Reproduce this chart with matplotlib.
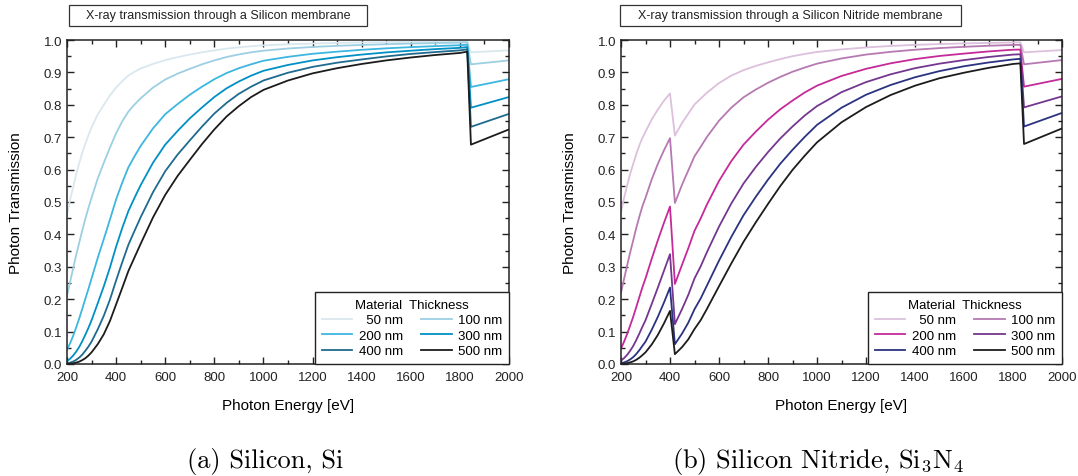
import matplotlib
matplotlib.use("Agg")
from matplotlib import pyplot as plt
from matplotlib.patches import Rectangle
from matplotlib.ticker import MultipleLocator

plt.rcParams["font.family"] = ["Liberation Sans", "DejaVu Sans"]

# Membrane thicknesses shown in both panels (legend labels).
THICKNESS_LABELS = ["50 nm", "100 nm", "200 nm", "300 nm", "400 nm", "500 nm"]

# ---------------------------------------------------------------------------
# Silicon (Si) transmission
# ---------------------------------------------------------------------------
energy_si = [200, 212, 225, 237, 250, 262, 275, 287, 300, 325, 350, 375, 400,
             425, 450, 475, 500, 550, 600, 650, 700, 750, 800, 850, 900, 950,
             1000, 1100, 1200, 1300, 1400, 1500, 1600, 1700, 1800, 1830, 1845, 2000]

si_50nm = [0.458, 0.505, 0.545, 0.585, 0.620, 0.652, 0.680, 0.706, 0.730, 0.770,
           0.800, 0.829, 0.853, 0.873, 0.890, 0.902, 0.912, 0.926, 0.938, 0.947,
           0.955, 0.962, 0.968, 0.9734, 0.9775, 0.9808, 0.9835, 0.9868, 0.989,
           0.991, 0.9923, 0.9935, 0.9945, 0.9953, 0.9959, 0.9963, 0.962, 0.968]
si_100nm = [0.210, 0.251, 0.295, 0.335, 0.375, 0.412, 0.449, 0.481, 0.513, 0.572,
            0.621, 0.668, 0.712, 0.749, 0.779, 0.801, 0.820, 0.853, 0.878, 0.896,
            0.911, 0.925, 0.937, 0.9475, 0.9555, 0.962, 0.967, 0.9737, 0.9785,
            0.982, 0.9847, 0.987, 0.989, 0.9906, 0.9919, 0.9927, 0.925, 0.937]
si_200nm = [0.044, 0.0629, 0.087, 0.112, 0.141, 0.170, 0.202, 0.231, 0.264, 0.327,
            0.386, 0.446, 0.508, 0.560, 0.607, 0.641, 0.673, 0.727, 0.771, 0.802,
            0.831, 0.856, 0.879, 0.898, 0.913, 0.925, 0.936, 0.948, 0.9574,
            0.964, 0.9697, 0.9743, 0.978, 0.9812, 0.9838, 0.9854, 0.855, 0.879]
si_300nm = [0.0092, 0.0158, 0.026, 0.0377, 0.053, 0.070, 0.091, 0.111, 0.135, 0.187,
            0.240, 0.298, 0.362, 0.420, 0.472, 0.513, 0.552, 0.621, 0.677, 0.719,
            0.758, 0.792, 0.824, 0.851, 0.872, 0.890, 0.905, 0.923, 0.937, 0.947,
            0.955, 0.9617, 0.967, 0.9719, 0.9758, 0.978, 0.791, 0.824]
si_400nm = [0.0019, 0.0040, 0.0076, 0.0126, 0.020, 0.0288, 0.041, 0.0535, 0.069,
            0.1067, 0.149, 0.199, 0.258, 0.314, 0.368, 0.411, 0.453, 0.530, 0.595,
            0.646, 0.690, 0.733, 0.773, 0.806, 0.834, 0.856, 0.875, 0.899, 0.917,
            0.930, 0.940, 0.9493, 0.957, 0.9628, 0.968, 0.971, 0.732, 0.772]
si_500nm = [0.0004, 0.0010, 0.0023, 0.0042, 0.0074, 0.0119, 0.018, 0.0257, 0.036,
            0.061, 0.092, 0.133, 0.184, 0.235, 0.287, 0.329, 0.371, 0.452, 0.522,
            0.580, 0.630, 0.679, 0.724, 0.764, 0.796, 0.824, 0.846, 0.875, 0.897,
            0.913, 0.926, 0.937, 0.946, 0.9537, 0.960, 0.964, 0.677, 0.724]

# ---------------------------------------------------------------------------
# Silicon nitride (Si3N4) transmission
# ---------------------------------------------------------------------------
energy_sin = [200, 212, 225, 237, 250, 262, 275, 287, 300, 325, 350, 375, 400, 420,
              450, 475, 500, 525, 550, 600, 650, 700, 750, 800, 850, 900, 950, 1000,
              1100, 1200, 1300, 1400, 1500, 1600, 1700, 1800, 1830, 1845, 2000]

sin_50nm = [0.469, 0.511, 0.551, 0.586, 0.618, 0.647, 0.675, 0.697, 0.717, 0.754,
            0.785, 0.812, 0.835, 0.705, 0.745, 0.773, 0.801, 0.819, 0.837, 0.867,
            0.890, 0.907, 0.920, 0.931, 0.941, 0.950, 0.957, 0.963, 0.971, 0.977,
            0.9815, 0.985, 0.9874, 0.9895, 0.991, 0.9923, 0.9926, 0.962, 0.969]
sin_100nm = [0.220, 0.261, 0.304, 0.343, 0.382, 0.419, 0.455, 0.486, 0.513, 0.569,
             0.617, 0.659, 0.697, 0.497, 0.555, 0.598, 0.641, 0.670, 0.700, 0.751,
             0.791, 0.823, 0.847, 0.868, 0.886, 0.902, 0.915, 0.927, 0.943, 0.955,
             0.9634, 0.970, 0.975, 0.979, 0.9822, 0.9847, 0.985, 0.925, 0.938]
sin_200nm = [0.048, 0.068, 0.0925, 0.118, 0.146, 0.175, 0.207, 0.236, 0.264, 0.324,
             0.381, 0.435, 0.486, 0.247, 0.308, 0.358, 0.411, 0.449, 0.491, 0.565,
             0.626, 0.677, 0.717, 0.754, 0.786, 0.813, 0.838, 0.859, 0.889, 0.911,
             0.928, 0.941, 0.9507, 0.958, 0.9647, 0.970, 0.9705, 0.856, 0.880]
sin_300nm = [0.0106, 0.0177, 0.0281, 0.0404, 0.0559, 0.0733, 0.0942, 0.1144, 0.135,
             0.1845, 0.235, 0.287, 0.339, 0.123, 0.171, 0.214, 0.264, 0.301, 0.344,
             0.424, 0.495, 0.557, 0.608, 0.654, 0.696, 0.733, 0.767, 0.796, 0.839,
             0.870, 0.894, 0.913, 0.927, 0.938, 0.9475, 0.955, 0.956, 0.792, 0.826]
sin_400nm = [0.0023, 0.0046, 0.0086, 0.0139, 0.0214, 0.0307, 0.0428, 0.0556, 0.069,
             0.105, 0.145, 0.189, 0.236, 0.061, 0.095, 0.128, 0.169, 0.202, 0.241,
             0.319, 0.392, 0.459, 0.516, 0.569, 0.618, 0.661, 0.701, 0.738, 0.791,
             0.831, 0.861, 0.885, 0.904, 0.919, 0.9306, 0.940, 0.942, 0.733, 0.775]
sin_500nm = [0.0005, 0.0012, 0.0026, 0.0048, 0.0082, 0.0128, 0.0195, 0.0270, 0.036,
             0.0598, 0.0893, 0.1247, 0.164, 0.0303, 0.0528, 0.0765, 0.108, 0.135,
             0.169, 0.240, 0.310, 0.377, 0.437, 0.494, 0.549, 0.599, 0.643, 0.684,
             0.746, 0.793, 0.830, 0.859, 0.882, 0.899, 0.914, 0.926, 0.928, 0.679,
             0.727]

si_curves = [si_50nm, si_100nm, si_200nm, si_300nm, si_400nm, si_500nm]
sin_curves = [sin_50nm, sin_100nm, sin_200nm, sin_300nm, sin_400nm, sin_500nm]

SI_COLORS = ["#d9e8ef", "#9dcfe3", "#3db6e0", "#0090c6", "#1f6a8e", "#1c1c1c"]
SIN_COLORS = ["#dcc0dc", "#b679b2", "#c42a98", "#74378f", "#2b3381", "#1c1c1c"]

FIG_W, FIG_H = 1078, 477


def fig_box(px_left, px_top, px_right, px_bottom):
    """Convert a pixel box (top-left origin) into figure fractions."""
    return (px_left / FIG_W, 1 - px_bottom / FIG_H,
            (px_right - px_left) / FIG_W, (px_bottom - px_top) / FIG_H)


def draw_panel(fig, ax_px, energy, curves, colors, title, title_px, caption, caption_x):
    ax = fig.add_axes(fig_box(*ax_px))
    lines = []
    for values, color, label in zip(curves, colors, THICKNESS_LABELS):
        (line,) = ax.plot(energy, values, color=color, lw=1.3, label=label)
        lines.append(line)

    ax.set_xlim(200, 2000)
    ax.set_ylim(0, 1)
    ax.xaxis.set_major_locator(MultipleLocator(200))
    ax.xaxis.set_minor_locator(MultipleLocator(100))
    ax.yaxis.set_major_locator(MultipleLocator(0.1))
    ax.yaxis.set_minor_locator(MultipleLocator(0.05))
    ax.yaxis.set_major_formatter("{x:.1f}")
    ax.tick_params(which="both", direction="in", top=True, right=True,
                   width=1, labelsize=9.5, colors="#222222")
    ax.tick_params(which="major", length=5)
    ax.tick_params(which="minor", length=3)
    ax.tick_params(axis="x", pad=5)
    for spine in ax.spines.values():
        spine.set_linewidth(1.1)
        spine.set_color("#222222")

    ax.set_xlabel("Photon Energy [eV]", fontsize=11)
    ax.set_ylabel("Photon Transmission", fontsize=11)
    ax.xaxis.set_label_coords(0.5, -0.105)
    ax.yaxis.set_label_coords(-0.1, 0.5)

    # Legend: rows of (50,100), (200,300), (400,500) with right-aligned labels
    order = [0, 2, 4, 1, 3, 5]
    labels = ["  50 nm", "200 nm", "400 nm", "100 nm", "300 nm", "500 nm"]
    leg = ax.legend([lines[i] for i in order], labels, ncol=2,
                    title="Material  Thickness", title_fontsize=9.5, fontsize=9.5,
                    loc="lower right", borderaxespad=0, fancybox=False,
                    framealpha=1, edgecolor="#222222", handlelength=2.3,
                    handletextpad=0.5, columnspacing=1.4, labelspacing=0.25,
                    borderpad=0.5)
    leg.get_frame().set_linewidth(1.0)

    # Boxed title above the axes
    left, top, right, bottom = title_px
    x0, y0, w, h = fig_box(left, top, right, bottom)
    fig.patches.append(Rectangle((x0, y0), w, h, transform=fig.transFigure,
                                 fill=False, edgecolor="#333333", lw=0.9))
    fig.text(x0 + w / 2, y0 + h / 2, title, ha="center", va="center",
             fontsize=9, color="#222222")

    # LaTeX-style subcaption
    fig.text(caption_x / FIG_W, 1 - 462 / FIG_H, caption, ha="center", va="center",
             fontsize=19, family="cmr10", math_fontfamily="cm")
    return ax


fig = plt.figure(figsize=(FIG_W / 100, FIG_H / 100), dpi=100)

draw_panel(fig, (67, 41, 509, 365), energy_si, si_curves, SI_COLORS,
           "X-ray transmission through a Silicon membrane", (69, 6, 367, 27),
           "(a) Silicon, Si", 265)
draw_panel(fig, (621, 41, 1062, 365), energy_sin, sin_curves, SIN_COLORS,
           "X-ray transmission through a Silicon Nitride membrane", (620, 6, 961, 27),
           r"(b) Silicon Nitride, Si$_3$N$_4$", 818)

fig.savefig("out.png", dpi=100)
